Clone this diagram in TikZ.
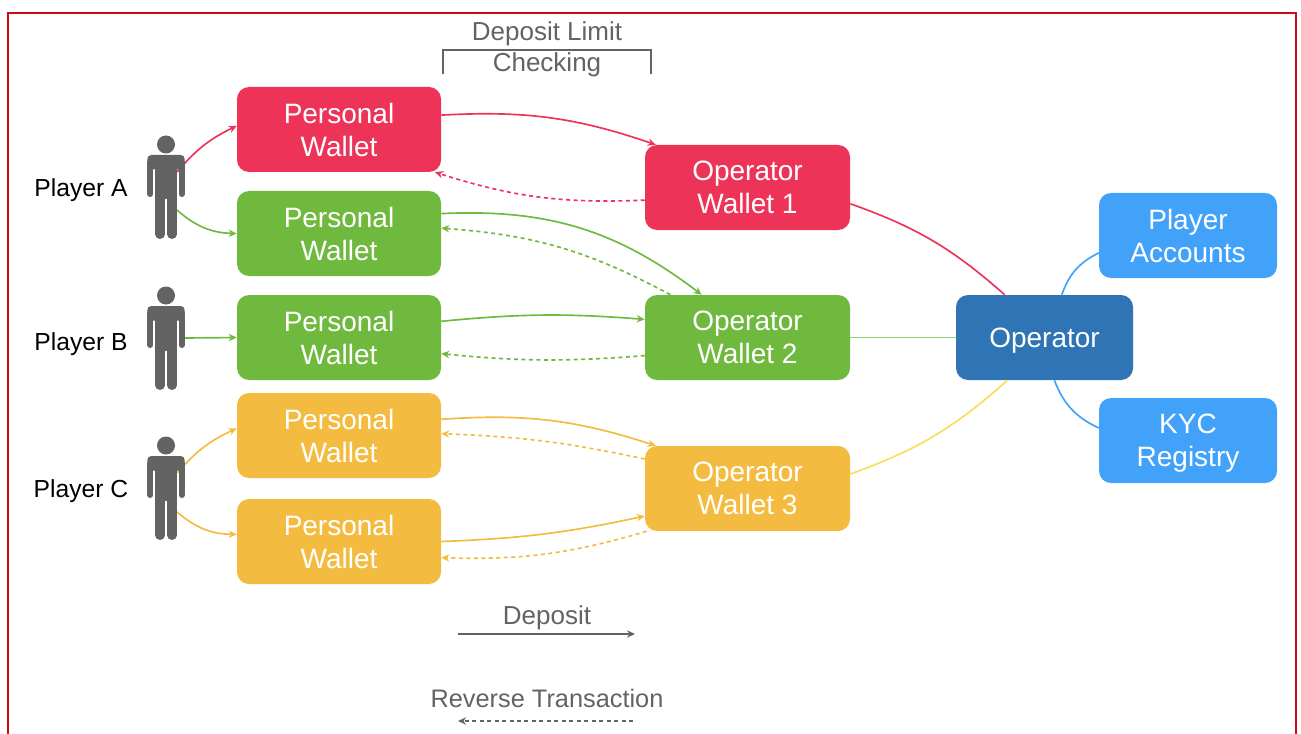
\documentclass[tikz,border=0pt]{standalone}
\usepackage{fontspec}
\setmainfont{Liberation Sans}
\usetikzlibrary{positioning,arrows.meta}
\definecolor{walletred}{HTML}{EE3358}
\definecolor{walletgreen}{HTML}{6FB93F}
\definecolor{walletyellow}{HTML}{F3BC41}
\definecolor{operatorblue}{HTML}{2F74B5}
\definecolor{registryblue}{HTML}{42A2FA}
\definecolor{linkgreen}{HTML}{8FD572}
\definecolor{linkyellow}{HTML}{F8DE5C}
\definecolor{legendgrey}{HTML}{636363}
\definecolor{framered}{HTML}{CC0A14}
\tikzset{
  wallet/.style={draw=none, rounded corners=9pt, text=white, align=center,
    minimum width=153pt, minimum height=63.75pt, inner sep=0pt, text depth=0pt,
    font=\fontsize{21}{24.75}\selectfont},
  opwallet/.style={wallet, minimum width=153.75pt},
  legendtext/.style={text=legendgrey, inner sep=0pt, text depth=0pt,
    font=\fontsize{19.5}{24}\selectfont},
  playertext/.style={text=black, inner sep=0pt, text depth=0pt,
    font=\fontsize{18.5}{22}\selectfont},
  dep/.style={->, >={Stealth[length=6pt,width=5.5pt]}, line width=1.25pt},
  rev/.style={dep, dash pattern=on 3pt off 2.6pt},
  person/.pic={
    \fill[legendgrey] (0,43) circle (9);
    \fill[legendgrey, rounded corners=3pt] (-18.7,32.5) rectangle (18.7,18);
    \fill[legendgrey] (-10.6,30) rectangle (10.6,-12);
    \draw[legendgrey, line width=4.5pt, line cap=round] (-15.7,25) -- (-15.7,-6.5)
      (15.7,25) -- (15.7,-6.5);
    \draw[legendgrey, line width=7pt, line cap=round] (-5.85,-8) -- (-5.85,-46.8)
      (5.85,-8) -- (5.85,-46.8);
  }
}
\begin{document}
\begin{tikzpicture}[x=0.75pt, y=0.75pt, node distance=78pt, on grid]
  \useasboundingbox (0,0) rectangle (1301,-734);
  \draw[framered, line width=1.6pt] (8,-740) -- (8,-13) -- (1296,-13) -- (1296,-740);%
  \node[wallet, fill=walletred] (pw1) at (339,-129.5) {Personal\\Wallet};%
  \node[wallet, fill=walletgreen] (pw2) [below=of pw1] {Personal\\Wallet};%
  \node[wallet, fill=walletgreen] (pw3) [below=of pw2] {Personal\\Wallet};%
  \node[wallet, fill=walletyellow] (pw4) [below=73.5pt of pw3] {Personal\\Wallet};%
  \node[wallet, fill=walletyellow] (pw5) [below=79.5pt of pw4] {Personal\\Wallet};%
  \node[opwallet, fill=walletred] (op1) at (747.5,-187.5) {Operator\\Wallet 1};%
  \node[opwallet, fill=walletgreen] (op2) [below=112.5pt of op1] {Operator\\Wallet 2};%
  \node[opwallet, fill=walletyellow] (op3) [below=113.25pt of op2] {Operator\\Wallet 3};%
  \node[wallet, fill=operatorblue, minimum width=132.75pt] (oper) [right=222.75pt of op2] {Operator};%
  \node[wallet, fill=registryblue, minimum width=133.5pt] (acc) at (1188,-235.5) {Player\\Accounts};%
  \node[wallet, fill=registryblue, minimum width=133.5pt] (kyc) [below=153.75pt of acc] {KYC\\Registry};%
  \coordinate (aup) at (177,-172);
  \coordinate (adown) at (177,-210);
  \coordinate (bmid) at (185,-338);
  \coordinate (cup) at (177,-473);
  \coordinate (cdown) at (177,-512);
  \path[dep, walletred] (aup) edge [bend left=12] (pw1.178)
    (pw1.8.6) edge [bend left=11] (op1.155.6);
  \path[rev, walletred] (op1.187.5) edge [bend left=10] (pw1.-24);
  \path[dep, walletgreen] (adown) edge [bend right=20] (pw2.west)
    (bmid) edge (pw3.west)
    (pw2.11.9) edge [bend left=20] (op2.137)
    (pw3.9.2) edge [bend left=5] (op2.170.3);
  \path[rev, walletgreen] (op2.151) edge [bend right=12] (pw2.3.6)
    (op2.190.2) edge [bend left=5] (pw3.-9.7);
  \path[dep, walletyellow] (cup) edge [bend left=12] (pw4.176.4)
    (cdown) edge [bend right=20] (pw5.176.4)
    (pw4.9.7) edge [bend left=11] (op3.155.6)
    (pw5.-0.3) edge [bend right=5] (op3.195);
  \path[rev, walletyellow] (op3.164) edge [bend right=5] (pw4.1.1)
    (op3.203.5) edge [bend left=9] (pw5.-9.7);
  \path[line width=1.25pt] (op1.-9.7) edge [walletred, bend left=11] (oper.133.6)
    (op2.east) edge [linkgreen] (oper.west)
    (op3.8.6) edge [linkyellow, bend right=11] (oper.229.3)
    (oper.68.8) edge [registryblue, bend left=22] (acc.191.7)
    (oper.-77.4) edge [registryblue, bend right=22] (kyc.172);
  \pic at (166,-187.5) {person};
  \pic at (166,-338.5) {person};
  \pic at (166,-488.5) {person};
  \node[playertext] (pla) at (81,-188) {Player A};%
  \node[playertext] (plb) at (81,-342) {Player B};%
  \node[playertext] (plc) at (81,-489) {Player C};%
  \node[legendtext] (limit) at (547,-31) {Deposit Limit};%
  \node[legendtext] (check) at (547,-62) {Checking};%
  \coordinate (brl) at (443,-74);
  \coordinate (brm) at (651,-50);
  \coordinate (brr) at (651,-74);
  \draw[legendgrey, line width=1pt] (brl) |- (brm) -- (brr);
  \node[legendtext] (depo) at (547,-615) {Deposit};%
  \node[legendtext, font=\fontsize{19}{24}\selectfont] (reve) at (547,-698) {Reverse Transaction};%
  \coordinate (deps) at (458,-634);
  \coordinate (depe) at (635,-634);
  \coordinate (revs) at (633,-721);
  \coordinate (reve2) at (458,-721);
  \draw[dep, legendgrey] (deps) -- (depe);
  \draw[rev, legendgrey] (revs) -- (reve2);
\end{tikzpicture}
\end{document}
